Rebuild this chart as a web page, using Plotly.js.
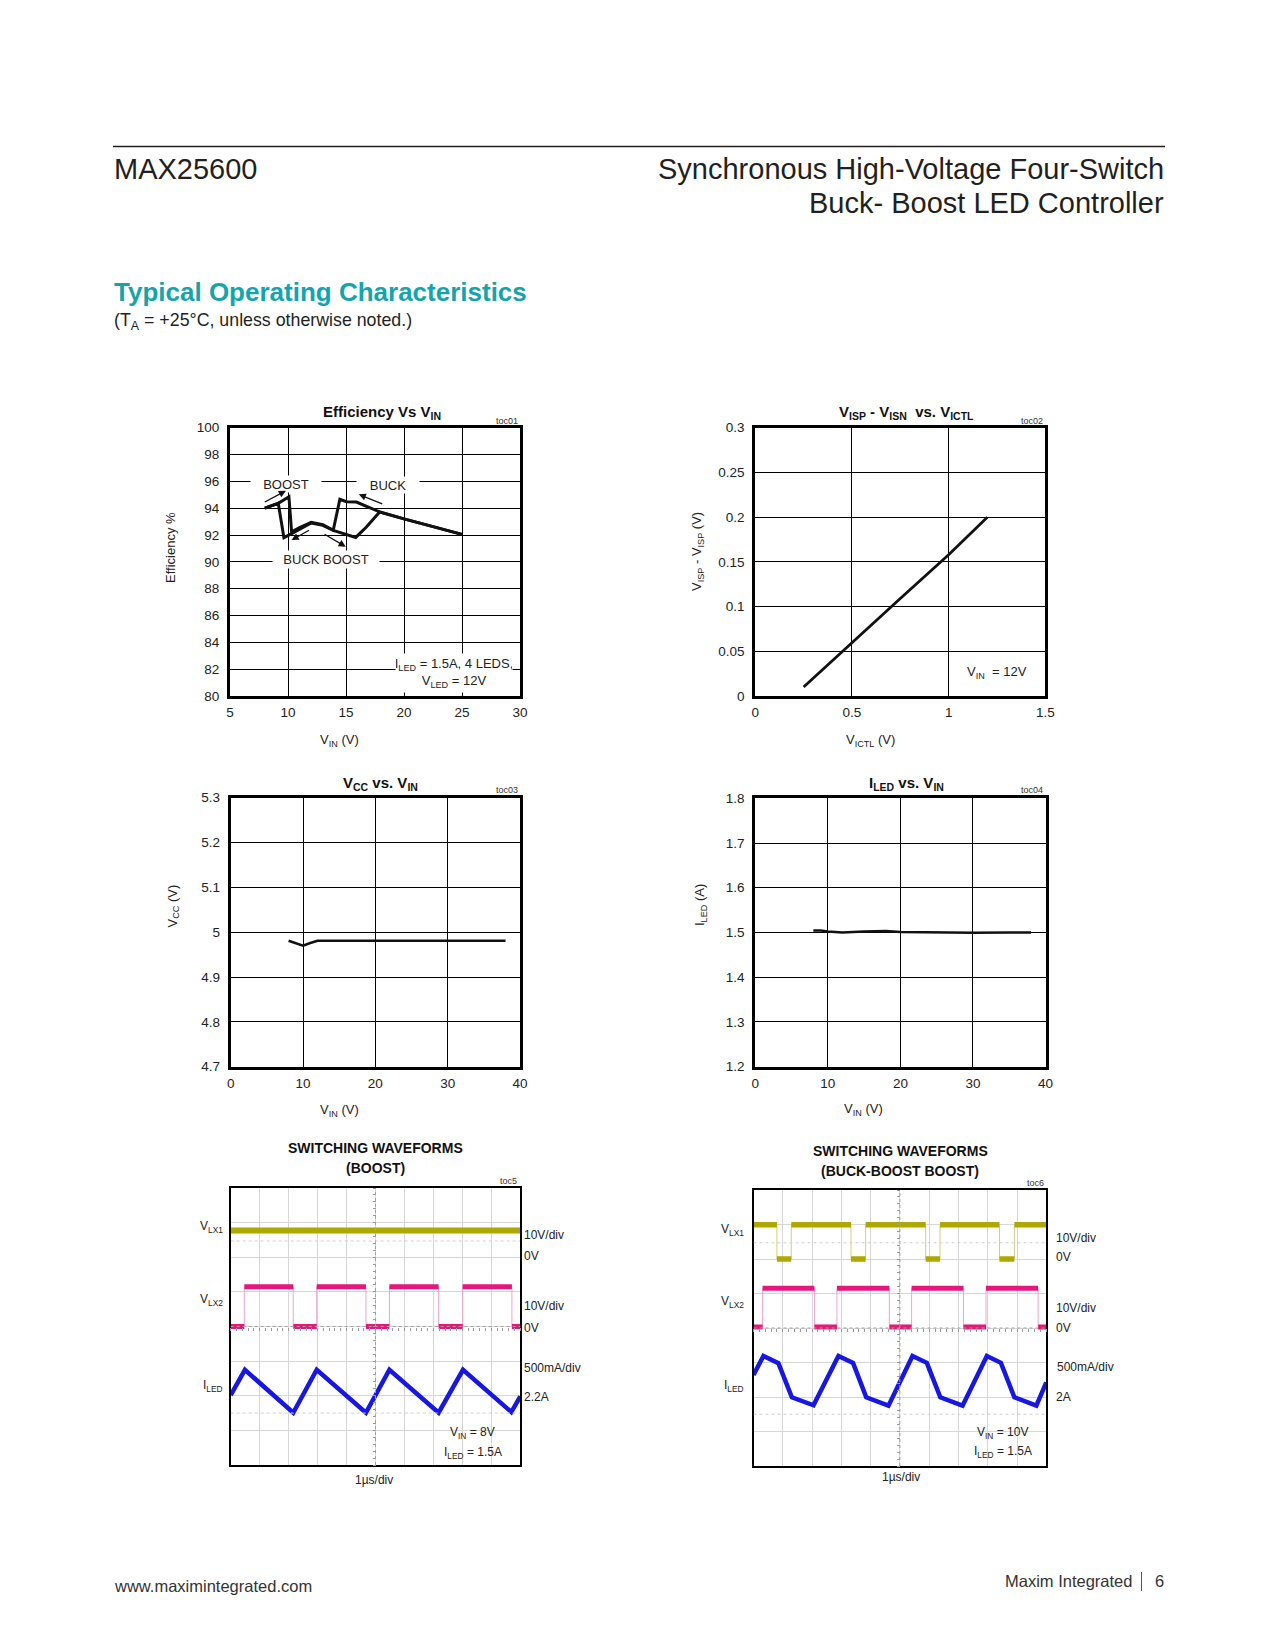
<!DOCTYPE html>
<html><head><meta charset="utf-8">
<script src="https://cdn.plot.ly/plotly-3.0.1.min.js"></script>
<style>html,body{margin:0;padding:0;background:#fff}#page{width:1275px;height:1650px}</style>
</head><body><div id="page"></div>
<script>
// ================= DATA =================
// toc01 Efficiency vs VIN (hysteresis: upward sweep and downward sweep)
const effUpVin   = [8, 9.16, 10.08, 10.31, 11, 12, 13, 13.9, 14.47, 15.04, 15.9, 17.9, 20, 22.5, 25];
const effUpEta   = [94.0, 94.36, 94.85, 92.24, 92.55, 92.95, 92.78, 92.35, 94.66, 94.48, 94.46, 93.72, 93.2, 92.6, 92.05];
const effDownVin = [25, 22.5, 20, 17.9, 16.76, 15.84, 14.9, 13.9, 13, 12, 10.31, 9.65, 9.16, 8];
const effDownEta = [92.05, 92.6, 93.2, 93.72, 92.6, 91.82, 92.1, 92.35, 92.72, 92.9, 92.1, 91.8, 94.36, 94.0];
const effXTicks = [5, 10, 15, 20, 25, 30];
const effYTicks = [80, 82, 84, 86, 88, 90, 92, 94, 96, 98, 100];

// toc02 VISP - VISN vs VICTL
const ictlV    = [0.25, 0.5, 0.75, 1.0, 1.2];
const ispDiffV = [0.01, 0.06, 0.109, 0.158, 0.2];
const ictlXTicks = [0, 0.5, 1, 1.5];
const ictlXText  = ['0', '0.5', '1', '1.5'];
const ictlYTicks = [0, 0.05, 0.1, 0.15, 0.2, 0.25, 0.3];
const ictlYText  = ['0', '0.05', '0.1', '0.15', '0.2', '0.25', '0.3'];

// toc03 VCC vs VIN
const vccVin = [8, 9, 10, 11, 12, 15, 20, 25, 30, 35, 38];
const vccOut = [4.981, 4.975, 4.970, 4.976, 4.981, 4.981, 4.981, 4.981, 4.981, 4.981, 4.981];
const vinTicks = [0, 10, 20, 30, 40];
const vccYTicks = [4.7, 4.8, 4.9, 5.0, 5.1, 5.2, 5.3];
const vccYText  = ['4.7', '4.8', '4.9', '5', '5.1', '5.2', '5.3'];

// toc04 ILED vs VIN
const iledVin = [8, 9, 10, 12, 15, 18, 20, 25, 30, 35, 38];
const iledOut = [1.504, 1.504, 1.502, 1.500, 1.502, 1.503, 1.501, 1.500, 1.499, 1.500, 1.500];
const iledYTicks = [1.2, 1.3, 1.4, 1.5, 1.6, 1.7, 1.8];
const iledYText  = ['1.2', '1.3', '1.4', '1.5', '1.6', '1.7', '1.8'];

// toc5 scope (BOOST): time in us (1us/div), amplitude in screen divisions
const boostLx1T   = [0, 10];
const boostLx1Div = [6.77, 6.77];
const boostLx2Edges  = [0.47, 2.16, 2.97, 4.67, 5.48, 7.18, 8.01, 9.71];
const boostLx2Levels = [4.0, 5.15, 4.0, 5.15, 4.0, 5.15, 4.0, 5.15, 4.0];
const boostIledT   = [0, 0.49, 2.16, 2.97, 4.67, 5.48, 7.18, 8.02, 9.69, 10];
const boostIledDiv = [2.02, 2.75, 1.51, 2.75, 1.51, 2.75, 1.51, 2.75, 1.53, 1.98];

// toc6 scope (BUCK-BOOST BOOST)
const bbLx1Edges  = [0.80, 1.29, 3.33, 3.83, 5.88, 6.37, 8.40, 8.91];
const bbLx1Levels = [6.99, 6.0, 6.99, 6.0, 6.99, 6.0, 6.99, 6.0, 6.99];
const bbLx2Edges  = [0.31, 2.08, 2.85, 4.64, 5.40, 7.17, 7.94, 9.72];
const bbLx2Levels = [4.03, 5.15, 4.03, 5.15, 4.03, 5.15, 4.03, 5.15, 4.03];
const bbIledT   = [0, 0.34, 0.85, 1.31, 2.05, 2.90, 3.40, 3.85, 4.61, 5.43, 5.92, 6.38, 7.14, 7.97, 8.45, 8.91, 9.66, 10];
const bbIledDiv = [2.64, 3.19, 2.98, 1.99, 1.76, 3.19, 2.99, 1.99, 1.75, 3.19, 2.99, 1.99, 1.75, 3.19, 2.99, 1.99, 1.75, 2.42];
const scopeSpan = 10;

// ================= BUILD =================
const W = 1275, H = 1650;
const X = p => p / W, Y = p => 1 - p / H;
const FONT = 'Liberation Sans, Arial, Helvetica, sans-serif';
const OLIVE = '#aea800', OLIVE_T = '#d2cf7a', PINK = '#e5177b', PINK_T = '#f3a3c7', BLUE = '#1717e3';

function stepLine(edges, levels) {
  const x = [0], y = [levels[0]];
  for (let i = 0; i < edges.length; i++) { x.push(edges[i], edges[i]); y.push(levels[i], levels[i + 1]); }
  x.push(scopeSpan); y.push(levels[levels.length - 1]);
  return {x, y};
}
function levelSegs(edges, levels) {
  const x = [], y = [];
  for (let i = 0; i < levels.length; i++) {
    const a = i === 0 ? 0 : edges[i - 1], b = i === edges.length ? scopeSpan : edges[i];
    x.push(a, b, null); y.push(levels[i], levels[i], null);
  }
  return {x, y};
}
const L = (x, y, xa, ya, color, width) => ({type: 'scatter', mode: 'lines', x, y, xaxis: xa, yaxis: ya,
  line: {color, width}, hoverinfo: 'skip'});

const traces = [];
traces.push(L(effUpVin, effUpEta, 'x', 'y', '#111', 3));
traces.push(L(effDownVin, effDownEta, 'x', 'y', '#111', 3));
traces.push(L(ictlV, ispDiffV, 'x2', 'y2', '#111', 2.8));
traces.push(L(vccVin, vccOut, 'x3', 'y3', '#111', 2.5));
traces.push(L(iledVin, iledOut, 'x4', 'y4', '#111', 2.5));

// scope 5
traces.push(L(boostLx1T, boostLx1Div, 'x5', 'y5', OLIVE, 6));
let s = stepLine(boostLx2Edges, boostLx2Levels);
traces.push(L(s.x, s.y, 'x5', 'y5', PINK_T, 1));
s = levelSegs(boostLx2Edges, boostLx2Levels);
traces.push(L(s.x, s.y, 'x5', 'y5', PINK, 5));
traces.push(L(boostIledT, boostIledDiv, 'x5', 'y5', BLUE, 4.5));
// scope 6
s = stepLine(bbLx1Edges, bbLx1Levels);
traces.push(L(s.x, s.y, 'x6', 'y6', OLIVE_T, 1));
s = levelSegs(bbLx1Edges, bbLx1Levels);
traces.push(L(s.x, s.y, 'x6', 'y6', OLIVE, 5.5));
s = stepLine(bbLx2Edges, bbLx2Levels);
traces.push(L(s.x, s.y, 'x6', 'y6', PINK_T, 1));
s = levelSegs(bbLx2Edges, bbLx2Levels);
traces.push(L(s.x, s.y, 'x6', 'y6', PINK, 5));
traces.push(L(bbIledT, bbIledDiv, 'x6', 'y6', BLUE, 4.5));
// empty traces that carry the graticule tick axes
traces.push({type: 'scatter', x: [null], y: [null], xaxis: 'x7', yaxis: 'y7', hoverinfo: 'skip'});
traces.push({type: 'scatter', x: [null], y: [null], xaxis: 'x8', yaxis: 'y8', hoverinfo: 'skip'});

const tickFont = {family: FONT, size: 13.5, color: '#222'};
function chartAxis(domain, range, tickvals, ticktext, anchor, isY) {
  const a = {domain, range, tickvals, anchor, showline: true, mirror: true, linecolor: '#000', linewidth: 3,
    showgrid: true, gridcolor: '#000', gridwidth: 1.2, zeroline: false, ticks: '', tickfont: tickFont,
    ticklabelstandoff: isY ? 5 : 2, fixedrange: true};
  if (ticktext) a.ticktext = ticktext;
  return a;
}
function scopeAxis(domain, range, anchor) {
  return {domain, range, anchor, dtick: 1, tick0: 0, showline: true, mirror: true, linecolor: '#000', linewidth: 2,
    showgrid: true, gridcolor: '#d6d6d6', gridwidth: 1, zeroline: false, ticks: '', showticklabels: false, fixedrange: true};
}
function tickAxis(domain, range, overlay, position) {
  return {domain, range, overlaying: overlay, anchor: 'free', position, showline: false, showgrid: false, zeroline: false,
    ticks: 'outside', ticklen: 3, tickwidth: 1, tickcolor: '#9a9a9a', dtick: 0.2, tick0: 0, showticklabels: false, fixedrange: true};
}

const d1x = [X(230), X(520)], d1y = [Y(696), Y(427.7)];
const d2x = [X(755.3), X(1045.3)];
const d3x = [X(230.7), X(520)], d3y = [Y(1066.7), Y(797.7)];
const d4x = [X(755.3), X(1045.5)], d4y = [Y(1066.5), Y(798.3)];
const d5x = [X(230.7), X(520.3)], d5y = [Y(1465), Y(1188)];
const d6x = [X(753.5), X(1046.3)], d6y = [Y(1466), Y(1190)];

const layout = {
  width: W, height: H, margin: {l: 0, r: 0, t: 0, b: 0}, showlegend: false,
  paper_bgcolor: '#fff', plot_bgcolor: 'rgba(0,0,0,0)',
  font: {family: FONT, size: 13, color: '#222'},
  xaxis:  chartAxis(d1x, [5, 30], effXTicks, null, 'y'),
  yaxis:  chartAxis(d1y, [80, 100], effYTicks, null, 'x', true),
  xaxis2: chartAxis(d2x, [0, 1.5], ictlXTicks, ictlXText, 'y2'),
  yaxis2: chartAxis(d1y, [0, 0.3], ictlYTicks, ictlYText, 'x2', true),
  xaxis3: chartAxis(d3x, [0, 40], vinTicks, null, 'y3'),
  yaxis3: chartAxis(d3y, [4.7, 5.3], vccYTicks, vccYText, 'x3', true),
  xaxis4: chartAxis(d4x, [0, 40], vinTicks, null, 'y4'),
  yaxis4: chartAxis(d4y, [1.2, 1.8], iledYTicks, iledYText, 'x4', true),
  xaxis5: scopeAxis(d5x, [0, 10], 'y5'),
  yaxis5: scopeAxis(d5y, [0, 8], 'x5'),
  xaxis6: scopeAxis(d6x, [0, 10], 'y6'),
  yaxis6: scopeAxis(d6y, [0, 8], 'x6'),
  xaxis7: tickAxis(d5x, [0, 10], 'x5', (d5y[0] + d5y[1]) / 2),
  yaxis7: tickAxis(d5y, [0, 8], 'y5', (d5x[0] + d5x[1]) / 2),
  xaxis8: tickAxis(d6x, [0, 10], 'x6', (d6y[0] + d6y[1]) / 2),
  yaxis8: tickAxis(d6y, [0, 8], 'y6', (d6x[0] + d6x[1]) / 2),
  shapes: [], annotations: []
};

// page rules
layout.shapes.push({type: 'line', xref: 'paper', yref: 'paper', x0: X(113), x1: X(1165), y0: Y(146.5), y1: Y(146.5), line: {color: '#231f20', width: 1.5}});
layout.shapes.push({type: 'line', xref: 'paper', yref: 'paper', x0: X(1141.5), x1: X(1141.5), y0: Y(1572), y1: Y(1591), line: {color: '#555', width: 1}});
// scope graticule centre lines and faint reference lines
[['x5', 'y5'], ['x6', 'y6']].forEach(([xa, ya]) => {
  layout.shapes.push({type: 'line', xref: xa, yref: ya, x0: 5, x1: 5, y0: 0, y1: 8, line: {color: '#a0a0a0', width: 1, dash: 'dot'}});
  layout.shapes.push({type: 'line', xref: xa, yref: ya, x0: 0, x1: 10, y0: 4, y1: 4, line: {color: '#a0a0a0', width: 1, dash: 'dot'}});
  layout.shapes.push({type: 'line', xref: xa, yref: ya, x0: 0, x1: 10, y0: 6.47, y1: 6.47, line: {color: '#cfcfcf', width: 1, dash: 'dot'}});
  layout.shapes.push({type: 'line', xref: xa, yref: ya, x0: 0, x1: 10, y0: 1.5, y1: 1.5, line: {color: '#cfcfcf', width: 1, dash: 'dot'}});
});

function A(text, px, py, o) {
  o = o || {};
  const f = Object.assign({family: FONT, size: 13, color: '#222'}, o.font || {});
  const a = Object.assign({text, x: X(px), y: Y(py), xref: 'paper', yref: 'paper', showarrow: false,
    xanchor: 'center', yanchor: 'middle'}, o);
  a.font = f;
  return a;
}
const ann = layout.annotations;
const HDR = {size: 29, color: '#231f20'};
// header / footer
ann.push(A('MAX25600', 112, 168.6, {xanchor: 'left', font: HDR}));
ann.push(A('Synchronous High-Voltage Four-Switch', 1166, 168.6, {xanchor: 'right', font: HDR}));
ann.push(A('Buck- Boost LED Controller', 1166, 203.4, {xanchor: 'right', font: HDR}));
ann.push(A('<b>Typical Operating Characteristics</b>', 112, 292, {xanchor: 'left', font: {size: 26, color: '#15a4ab'}}));
ann.push(A('(T<sub>A</sub> = +25°C, unless otherwise noted.)', 112, 321, {xanchor: 'left', font: {size: 17.8, color: '#231f20'}}));
ann.push(A('www.maximintegrated.com', 112, 1586, {xanchor: 'left', font: {size: 16.5, color: '#333'}}));
ann.push(A('Maxim Integrated', 1134, 1581, {xanchor: 'right', font: {size: 16.5, color: '#333'}}));
ann.push(A('6', 1159, 1581, {font: {size: 16.5, color: '#333'}}));

// chart titles
const TT = {size: 15, color: '#111'};
const ST = {size: 14, color: '#111'};
ann.push(A('<b>Efficiency Vs V<sub>IN</sub></b>', 381.5, 412, {font: TT}));
ann.push(A('<b>V<sub>ISP</sub> - V<sub>ISN</sub>  vs. V<sub>ICTL</sub></b>', 906.7, 412, {font: TT}));
ann.push(A('<b>V<sub>CC</sub> vs. V<sub>IN</sub></b>', 380, 783.3, {font: TT}));
ann.push(A('<b>I<sub>LED</sub> vs. V<sub>IN</sub></b>', 906.7, 783.3, {font: TT}));
ann.push(A('<b>SWITCHING WAVEFORMS</b>', 375, 1148, {font: ST}));
ann.push(A('<b>(BOOST)</b>', 375, 1167.5, {font: ST}));
ann.push(A('<b>SWITCHING WAVEFORMS</b>', 900, 1150.5, {font: ST}));
ann.push(A('<b>(BUCK-BOOST BOOST)</b>', 900, 1170.5, {font: ST}));
const TOC = {size: 9, color: '#333'};
ann.push(A('toc01', 520, 420.5, {xanchor: 'right', font: TOC}));
ann.push(A('toc02', 1045, 420.5, {xanchor: 'right', font: TOC}));
ann.push(A('toc03', 520, 790.5, {xanchor: 'right', font: TOC}));
ann.push(A('toc04', 1045, 790.5, {xanchor: 'right', font: TOC}));
ann.push(A('toc5', 519, 1180.5, {xanchor: 'right', font: TOC}));
ann.push(A('toc6', 1046, 1183, {xanchor: 'right', font: TOC}));

// axis titles
ann.push(A('V<sub>IN</sub> (V)', 339.5, 740));
ann.push(A('Efficiency %', 171, 548, {textangle: -90}));
ann.push(A('V<sub>ICTL</sub> (V)', 870.6, 740));
ann.push(A('V<sub>ISP</sub> - V<sub>ISP</sub> (V)', 698, 552, {textangle: -90}));
ann.push(A('V<sub>IN</sub> (V)', 339, 1110));
ann.push(A('V<sub>CC</sub> (V)', 173, 906.5, {textangle: -90}));
ann.push(A('V<sub>IN</sub> (V)', 863.3, 1109.5));
ann.push(A('I<sub>LED</sub> (A)', 700, 905, {textangle: -90}));

// toc01 callouts
const BOX = {bgcolor: '#fff', borderpad: 0};
ann.push(A('BOOST', 285.6, 484, Object.assign({width: 70, height: 16}, BOX)));
ann.push(A('BUCK', 388, 485, Object.assign({width: 62, height: 16}, BOX)));
ann.push(A('BUCK BOOST', 325.5, 559, Object.assign({width: 106, height: 17}, BOX)));
ann.push(A('I<sub>LED</sub> = 1.5A, 4 LEDS,<br>V<sub>LED</sub> = 12V', 454, 672.5, Object.assign({width: 116, height: 38}, BOX)));
function arrow(xh, yh, xt, yt) {
  return {x: xh, y: yh, ax: xt, ay: yt, xref: 'x', yref: 'y', axref: 'x', ayref: 'y', text: '', showarrow: true,
    arrowhead: 2, arrowsize: 1.1, arrowwidth: 1.3, arrowcolor: '#111', standoff: 0, startstandoff: 0};
}
ann.push(arrow(9.82, 95.3, 7.87, 94.4));
ann.push(arrow(16.1, 95.03, 18.25, 94.28));
ann.push(arrow(10.31, 91.62, 11.94, 92.42));
ann.push(arrow(14.98, 91.12, 13.03, 92.12));
ann.push(A('V<sub>IN</sub>  = 12V', 965, 672.5, {xanchor: 'left'}));

// scope labels
const SL = {size: 12, color: '#222'};
ann.push(A('V<sub>LX1</sub>', 225, 1227, {xanchor: 'right', font: SL}));
ann.push(A('V<sub>LX2</sub>', 225, 1300, {xanchor: 'right', font: SL}));
ann.push(A('I<sub>LED</sub>', 225, 1386, {xanchor: 'right', font: SL}));
ann.push(A('10V/div', 522, 1235, {xanchor: 'left', font: SL}));
ann.push(A('0V', 522, 1256, {xanchor: 'left', font: SL}));
ann.push(A('10V/div', 522, 1305.5, {xanchor: 'left', font: SL}));
ann.push(A('0V', 522, 1327.5, {xanchor: 'left', font: SL}));
ann.push(A('500mA/div', 522, 1368, {xanchor: 'left', font: SL}));
ann.push(A('2.2A', 522, 1396.5, {xanchor: 'left', font: SL}));
ann.push(A('V<sub>IN</sub> = 8V', 472, 1433, {font: SL}));
ann.push(A('I<sub>LED</sub> = 1.5A', 472.5, 1452.5, {font: SL}));
ann.push(A('1µs/div', 374, 1480, {font: SL}));

ann.push(A('V<sub>LX1</sub>', 746, 1230, {xanchor: 'right', font: SL}));
ann.push(A('V<sub>LX2</sub>', 746, 1302, {xanchor: 'right', font: SL}));
ann.push(A('I<sub>LED</sub>', 746, 1386, {xanchor: 'right', font: SL}));
ann.push(A('10V/div', 1054, 1238, {xanchor: 'left', font: SL}));
ann.push(A('0V', 1054, 1257, {xanchor: 'left', font: SL}));
ann.push(A('10V/div', 1054, 1308, {xanchor: 'left', font: SL}));
ann.push(A('0V', 1054, 1328, {xanchor: 'left', font: SL}));
ann.push(A('500mA/div', 1055, 1367, {xanchor: 'left', font: SL}));
ann.push(A('2A', 1054, 1396.5, {xanchor: 'left', font: SL}));
ann.push(A('V<sub>IN</sub> = 10V', 1002, 1433, {font: SL}));
ann.push(A('I<sub>LED</sub> = 1.5A', 1003, 1452, {font: SL}));
ann.push(A('1µs/div', 901, 1477, {font: SL}));

Plotly.newPlot('page', traces, layout, {displayModeBar: false});
</script>
</body></html>
